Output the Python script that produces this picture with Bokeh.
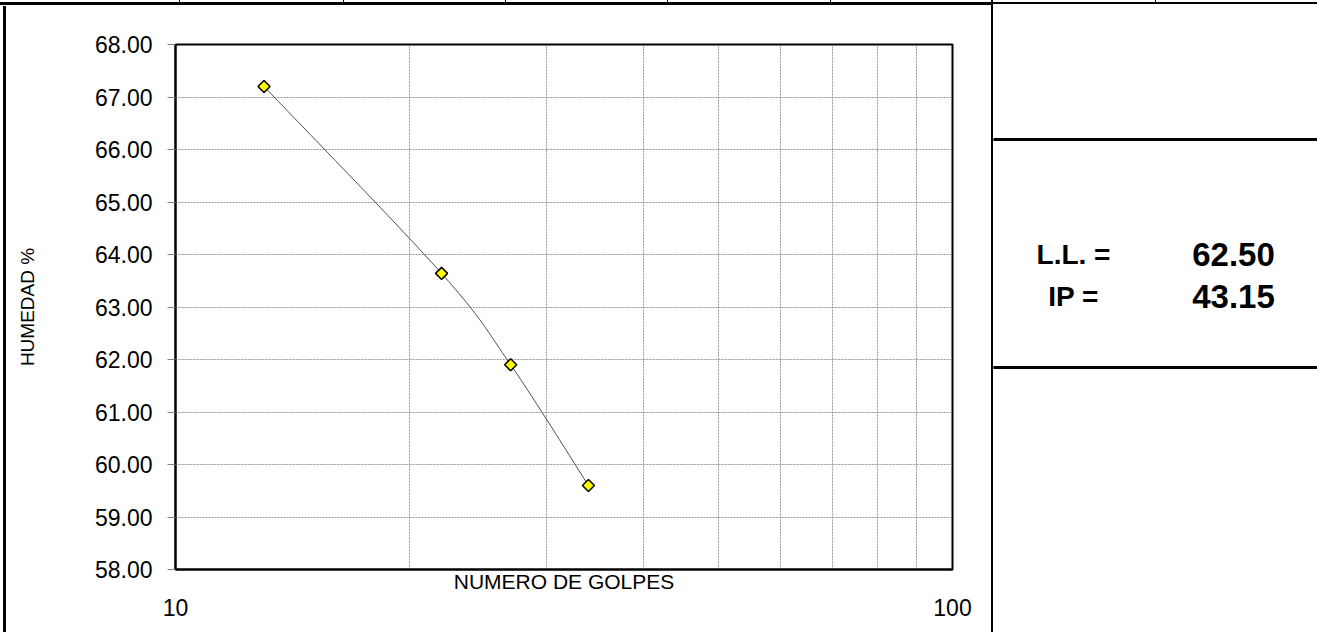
import numpy as np
from bokeh.plotting import figure
from bokeh.layouts import row, column
from bokeh.models import (LogAxis, FixedTicker, PrintfTickFormatter, Range1d,
                          ColumnDataSource, Div)
from bokeh.core.properties import value
from bokeh.embed import file_html
from bokeh.resources import INLINE

# ---------------- data ----------------
golpes = [13, 22, 27, 34]                  # NUMERO DE GOLPES
humedad = [67.20, 63.64, 61.90, 59.60]     # HUMEDAD %
y_ticks = [58, 59, 60, 61, 62, 63, 64, 65, 66, 67, 68]
x_ticks = [10, 100]
x_grid = [10, 20, 30, 40, 50, 60, 70, 80, 90, 100]
result_labels = ["L.L. =", "IP ="]
result_values = [62.50, 43.15]

FONT = "Liberation Sans"
W, H = 1317, 632
TOP_H = 6
BODY_H = H - TOP_H


def css_div(w, h, rects):
    layers = ", ".join("linear-gradient(#000, #000) %gpx %gpx / %gpx %gpx no-repeat" % r
                       for r in rects)
    return Div(text="", width=w, height=h, margin=0,
               styles={"background": layers + ", #fff"})


# ---------------- table decoration strips ----------------
cells = [179, 343, 505, 667, 830, 1155]
top = css_div(W, TOP_H, [(0, 2, 992, 3), (992, 2, W - 992, 2), (991, 0, 2, TOP_H)]
              + [(c, 0, 1, 2) for c in cells])
left = css_div(6, BODY_H, [(3, 0, 3, BODY_H)])
divider = css_div(2, BODY_H, [(0, 0, 2, BODY_H)])

# ---------------- chart ----------------
CH_W = 985
chart = figure(width=CH_W, height=BODY_H, x_axis_type="log", x_range=Range1d(10, 100),
               y_range=Range1d(58, 68), output_backend="svg", toolbar_location=None,
               min_border_left=169, min_border_right=CH_W - 169 - 777,
               min_border_top=38, min_border_bottom=63)
chart.outline_line_color = "black"
chart.outline_line_width = 2

yax = chart.yaxis[0]
yax.ticker = FixedTicker(ticks=y_ticks)
yax.formatter = PrintfTickFormatter(format="%.2f")
yax.major_label_text_font = FONT
yax.major_label_text_font_size = "23px"
yax.major_label_text_color = "black"
yax.major_tick_out = 8
yax.major_tick_in = 0
yax.minor_tick_out = 0
yax.minor_tick_in = 0
yax.major_tick_line_color = "#808080"
yax.axis_line_color = "black"
yax.axis_line_width = 2
yax.major_label_standoff = 15
yax.axis_label = "HUMEDAD %"
yax.axis_label_text_font = FONT
yax.axis_label_text_font_size = "19px"
yax.axis_label_text_font_style = "normal"
yax.axis_label_text_color = "black"
yax.axis_label_standoff = 54

xax = chart.xaxis[0]
xax.ticker = FixedTicker(ticks=x_ticks)
xax.major_label_text_font_size = "1px"
xax.major_label_text_color = None
xax.major_label_standoff = 0
xax.major_tick_out = 0
xax.major_tick_in = 0
xax.minor_tick_out = 0
xax.minor_tick_in = 0
xax.axis_line_color = "black"
xax.axis_line_width = 2
xax.axis_label = "NUMERO DE GOLPES"
xax.axis_label_text_font = FONT
xax.axis_label_text_font_size = "21px"
xax.axis_label_text_font_style = "normal"
xax.axis_label_text_color = "black"
xax.axis_label_standoff = 0

xax2 = LogAxis(ticker=FixedTicker(ticks=x_ticks), formatter=PrintfTickFormatter(format="%d"),
               axis_line_color=None, major_tick_line_color=None, minor_tick_line_color=None,
               major_tick_out=0, major_tick_in=0, minor_tick_out=0, minor_tick_in=0,
               major_label_text_font=FONT, major_label_text_font_size="23px",
               major_label_text_color="black", major_label_standoff=3)
chart.add_layout(xax2, "below")

chart.xgrid.ticker = FixedTicker(ticks=x_grid)
chart.ygrid.ticker = FixedTicker(ticks=y_ticks)
for g in (chart.xgrid[0], chart.ygrid[0]):
    g.grid_line_color = "#9a9a9a"
    g.grid_line_dash = "2 1"
    g.grid_line_width = 1

# smoothed connecting curve (Catmull-Rom in log-x / linear-y space)
lx = np.log10(np.array(golpes, dtype=float))
yy = np.array(humedad, dtype=float)
n = len(lx)
px = np.concatenate([[lx[0]], lx, [lx[-1]]])
py = np.concatenate([[yy[0]], yy, [yy[-1]]])
x0, y0, x1, y1, cx0, cy0, cx1, cy1 = [], [], [], [], [], [], [], []
for i in range(n - 1):
    a, b, c, d = i, i + 1, i + 2, i + 3
    x0.append(10 ** px[b]); y0.append(py[b])
    x1.append(10 ** px[c]); y1.append(py[c])
    cx0.append(10 ** (px[b] + (px[c] - px[a]) / 6)); cy0.append(py[b] + (py[c] - py[a]) / 6)
    cx1.append(10 ** (px[c] - (px[d] - px[b]) / 6)); cy1.append(py[c] - (py[d] - py[b]) / 6)
chart.bezier(x0=x0, y0=y0, x1=x1, y1=y1, cx0=cx0, cy0=cy0, cx1=cx1, cy1=cy1,
             line_color="#505050", line_width=1)

chart.scatter(golpes, humedad, marker="square", angle=np.pi / 4, size=8.5,
              fill_color="#FFFF00", line_color="black", line_width=1.5)

# ---------------- results panel (page-pixel coordinates) ----------------
RX0 = 6 + CH_W + 2
right = figure(width=W - RX0, height=BODY_H, x_range=Range1d(RX0, W), y_range=Range1d(569, 44),
               x_axis_location=None, y_axis_location=None, toolbar_location=None,
               output_backend="svg", min_border_left=0, min_border_right=0,
               min_border_top=38, min_border_bottom=63)
right.outline_line_color = None
right.grid.visible = False
right.quad(left=[RX0, RX0], right=[W, W], top=[138, 366], bottom=[140, 368], color="black")

src = ColumnDataSource(dict(
    lab=result_labels,
    val=["%.2f" % v for v in result_values],
    ly=[254, 296],
    lx=[1073, 1073],
    vx=[1233, 1233],
))
right.text(x="lx", y="ly", text="lab", source=src, text_font=value(FONT),
           text_font_style="bold", text_font_size="28px", text_align="center",
           text_baseline="middle", text_color="black")
right.text(x="vx", y="ly", text="val", source=src, text_font=value(FONT),
           text_font_style="bold", text_font_size="33px", text_align="center",
           text_baseline="middle", text_color="black")

p = column(top, row(left, chart, divider, right, spacing=0), spacing=0)

open("out.html", "w").write(file_html(p, INLINE))
